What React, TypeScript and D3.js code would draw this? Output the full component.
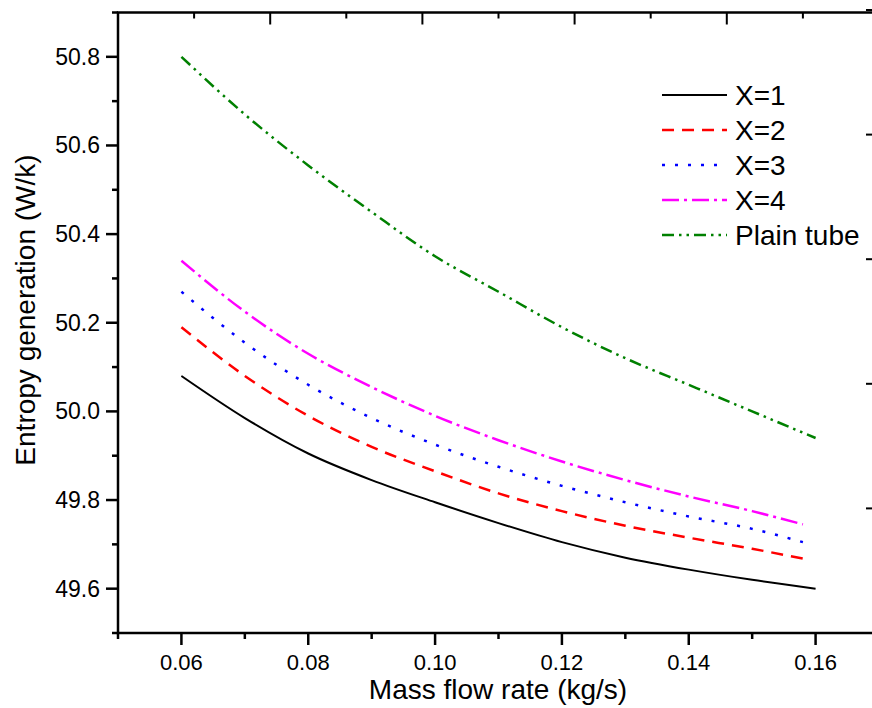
import { useEffect, useRef } from "react";
import * as d3 from "d3";

// chart values
const massFlow = [0.06, 0.07, 0.08, 0.09, 0.1, 0.11, 0.12, 0.13, 0.14, 0.15, 0.16];
const massFlowShort = [0.06, 0.07, 0.08, 0.09, 0.1, 0.11, 0.12, 0.13, 0.14, 0.15, 0.158];
const x1 = [50.08, 49.985, 49.905, 49.845, 49.795, 49.748, 49.705, 49.67, 49.643, 49.62, 49.6];
const x2 = [50.19, 50.08, 49.99, 49.92, 49.865, 49.815, 49.775, 49.742, 49.715, 49.69, 49.668];
const x3 = [50.27, 50.155, 50.06, 49.985, 49.925, 49.875, 49.832, 49.795, 49.763, 49.735, 49.705];
const x4 = [50.34, 50.225, 50.13, 50.055, 49.99, 49.935, 49.887, 49.845, 49.808, 49.775, 49.745];
const plainTube = [50.8, 50.67, 50.555, 50.45, 50.35, 50.27, 50.19, 50.12, 50.06, 50.0, 49.94];

const xTicks = [0.06, 0.08, 0.1, 0.12, 0.14, 0.16];
const yTicks = [49.6, 49.8, 50.0, 50.2, 50.4, 50.6, 50.8];

const series = [
  { name: "X=1", xs: massFlow, ys: x1, color: "#000000", dash: null },
  { name: "X=2", xs: massFlowShort, ys: x2, color: "#ff0000", dash: "12,8" },
  { name: "X=3", xs: massFlowShort, ys: x3, color: "#0000ff", dash: "3,10" },
  { name: "X=4", xs: massFlowShort, ys: x4, color: "#ff00ff", dash: "17,5,3,5" },
  { name: "Plain tube", xs: massFlow, ys: plainTube, color: "#008000", dash: "12,5,2.5,5,2.5,5" },
];

const W = 872;
const H = 708;
const FONT = "'Liberation Sans', Arial, Helvetica, sans-serif";

const App = () => {
  const svgRef = useRef<SVGSVGElement>(null);

  useEffect(() => {
    const svg = d3.select(svgRef.current);
    svg.selectAll("*").remove();

    const left = 118;
    const right = 879;
    const top = 12.5;
    const bottom = 633;

    const xScale = d3.scaleLinear().domain([0.05, 0.17]).range([left, right]);
    const yScale = d3.scaleLinear().domain([49.5, 50.9]).range([bottom, top]);
    // top/right frame ticks use their own spacing in the original figure
    const topScale = d3.scaleLinear().domain([0, 5]).range([left, right]);
    const rightScale = d3.scaleLinear().domain([0, 5]).range([bottom, 10]);

    const frame = svg.append("g").attr("stroke", "#000").attr("fill", "none");

    // bottom axis ticks
    d3.range(0.05, 0.1701, 0.01).forEach((v, i) => {
      const major = i % 2 === 1;
      frame
        .append("line")
        .attr("x1", xScale(v))
        .attr("x2", xScale(v))
        .attr("y1", bottom)
        .attr("y2", bottom + (major ? 12 : 6))
        .attr("stroke-width", 2.5);
    });

    // left axis ticks
    d3.range(49.5, 50.901, 0.1).forEach((v, i) => {
      const major = i % 2 === 1;
      frame
        .append("line")
        .attr("x1", left)
        .attr("x2", left - (major ? 12 : 6))
        .attr("y1", yScale(v))
        .attr("y2", yScale(v))
        .attr("stroke-width", 2.5);
    });

    // top ticks (inward)
    d3.range(0, 5.01, 0.5).forEach((v, i) => {
      const major = i % 2 === 0;
      frame
        .append("line")
        .attr("x1", topScale(v))
        .attr("x2", topScale(v))
        .attr("y1", top)
        .attr("y2", top + (major ? 12 : 6))
        .attr("stroke-width", 2);
    });

    // right ticks (inward)
    d3.range(0, 5.01, 0.5).forEach((v, i) => {
      const major = i % 2 === 0;
      frame
        .append("line")
        .attr("x1", right)
        .attr("x2", right - (major ? 13 : 7))
        .attr("y1", rightScale(v))
        .attr("y2", rightScale(v))
        .attr("stroke-width", major ? 2 : 1)
        .attr("stroke", major ? "#000" : "#bbb");
    });

    // frame
    frame
      .append("rect")
      .attr("x", left)
      .attr("y", top)
      .attr("width", right - left)
      .attr("height", bottom - top)
      .attr("stroke-width", 2.5);

    // tick labels
    svg
      .append("g")
      .selectAll("text")
      .data(xTicks)
      .enter()
      .append("text")
      .attr("x", (d) => xScale(d))
      .attr("y", 670)
      .attr("text-anchor", "middle")
      .style("font-family", FONT)
      .style("font-size", "22px")
      .text((d) => d3.format(".2f")(d));

    svg
      .append("g")
      .selectAll("text")
      .data(yTicks)
      .enter()
      .append("text")
      .attr("x", 100)
      .attr("y", (d) => yScale(d) + 8)
      .attr("text-anchor", "end")
      .style("font-family", FONT)
      .style("font-size", "23px")
      .text((d) => d3.format(".1f")(d));

    // axis titles
    svg
      .append("text")
      .attr("x", 498)
      .attr("y", 699)
      .attr("text-anchor", "middle")
      .style("font-family", FONT)
      .style("font-size", "28px")
      .text("Mass flow rate (kg/s)");

    svg
      .append("text")
      .attr("transform", "translate(35, 310) rotate(-90)")
      .attr("text-anchor", "middle")
      .style("font-family", FONT)
      .style("font-size", "28px")
      .text("Entropy generation (W/k)");

    // lines
    series.forEach((s) => {
      const pts: [number, number][] = s.xs.map((x, i) => [xScale(x), yScale(s.ys[i])]);
      const path = d3.line().curve(d3.curveMonotoneX)(pts);
      svg
        .append("path")
        .attr("d", path)
        .attr("fill", "none")
        .attr("stroke", s.color)
        .attr("stroke-width", s.dash ? 2.5 : 2)
        .attr("stroke-dasharray", s.dash);
    });

    // legend
    const legend = svg.append("g");
    series.forEach((s, i) => {
      const y = 95 + i * 35;
      legend
        .append("line")
        .attr("x1", 662)
        .attr("x2", 727)
        .attr("y1", y)
        .attr("y2", y)
        .attr("stroke", s.color)
        .attr("stroke-width", s.dash ? 2.5 : 2)
        .attr("stroke-dasharray", s.dash);
      legend
        .append("text")
        .attr("x", 735)
        .attr("y", y + 10)
        .style("font-family", FONT)
        .style("font-size", "28px")
        .text(s.name);
    });
  }, []);

  return (
    <svg
      ref={svgRef}
      width={W}
      height={H}
      viewBox={`0 0 ${W} ${H}`}
      style={{ position: "absolute", left: 0, top: 0, background: "#fff" }}
    ></svg>
  );
};

export default App;
